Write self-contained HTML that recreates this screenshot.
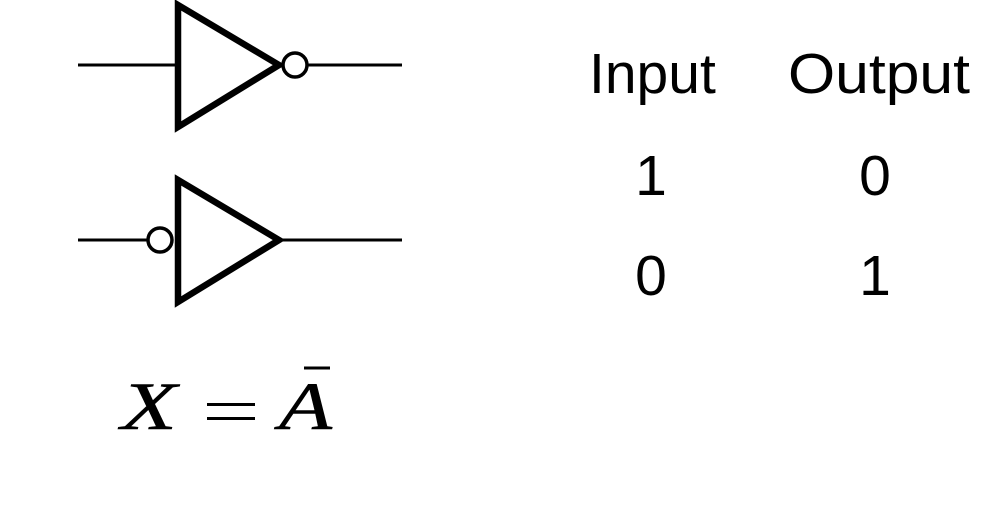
<!DOCTYPE html>
<html><head><meta charset="utf-8"><style>
html,body{margin:0;padding:0;background:#fff;width:1005px;height:510px;overflow:hidden}
</style></head><body>
<svg width="1005" height="510" viewBox="0 0 1005 510" xmlns="http://www.w3.org/2000/svg">
<g stroke="#000" fill="none">
<line x1="78" y1="65" x2="178" y2="65" stroke-width="3"/>
<line x1="306" y1="65" x2="402" y2="65" stroke-width="3"/>
<polygon points="178,5 178,127 279,65" stroke-width="6.5" stroke-linejoin="miter"/>
<circle cx="295" cy="65" r="12" stroke-width="3.5" fill="#fff"/>
<line x1="78" y1="240" x2="148" y2="240" stroke-width="3"/>
<line x1="279" y1="240" x2="402" y2="240" stroke-width="3"/>
<polygon points="178,180 178,302 279,240" stroke-width="6.5"/>
<circle cx="160" cy="240" r="12" stroke-width="3.5" fill="#fff"/>
</g>
<g font-family="Liberation Sans, sans-serif" font-size="57" fill="#000">
<text x="589" y="93">Input</text>
<text x="788" y="93" textLength="182" lengthAdjust="spacingAndGlyphs">Output</text>
<text x="651" y="195" text-anchor="middle">1</text>
<text x="875" y="195" text-anchor="middle">0</text>
<text x="651" y="295" text-anchor="middle">0</text>
<text x="875" y="295" text-anchor="middle">1</text>
</g>
<g font-family="Liberation Serif, serif" font-size="68" fill="#000" stroke="#000" stroke-width="0.5">
<text x="121" y="429" font-style="italic" textLength="56" lengthAdjust="spacingAndGlyphs">X</text>
<text x="279" y="429" font-style="italic" textLength="53" lengthAdjust="spacingAndGlyphs">A</text>
</g>
<rect x="207" y="403" width="48" height="3" fill="#000"/>
<rect x="207" y="417" width="48" height="3" fill="#000"/>
<line x1="304" y1="368" x2="330" y2="368" stroke="#000" stroke-width="3"/>
</svg>
</body></html>
